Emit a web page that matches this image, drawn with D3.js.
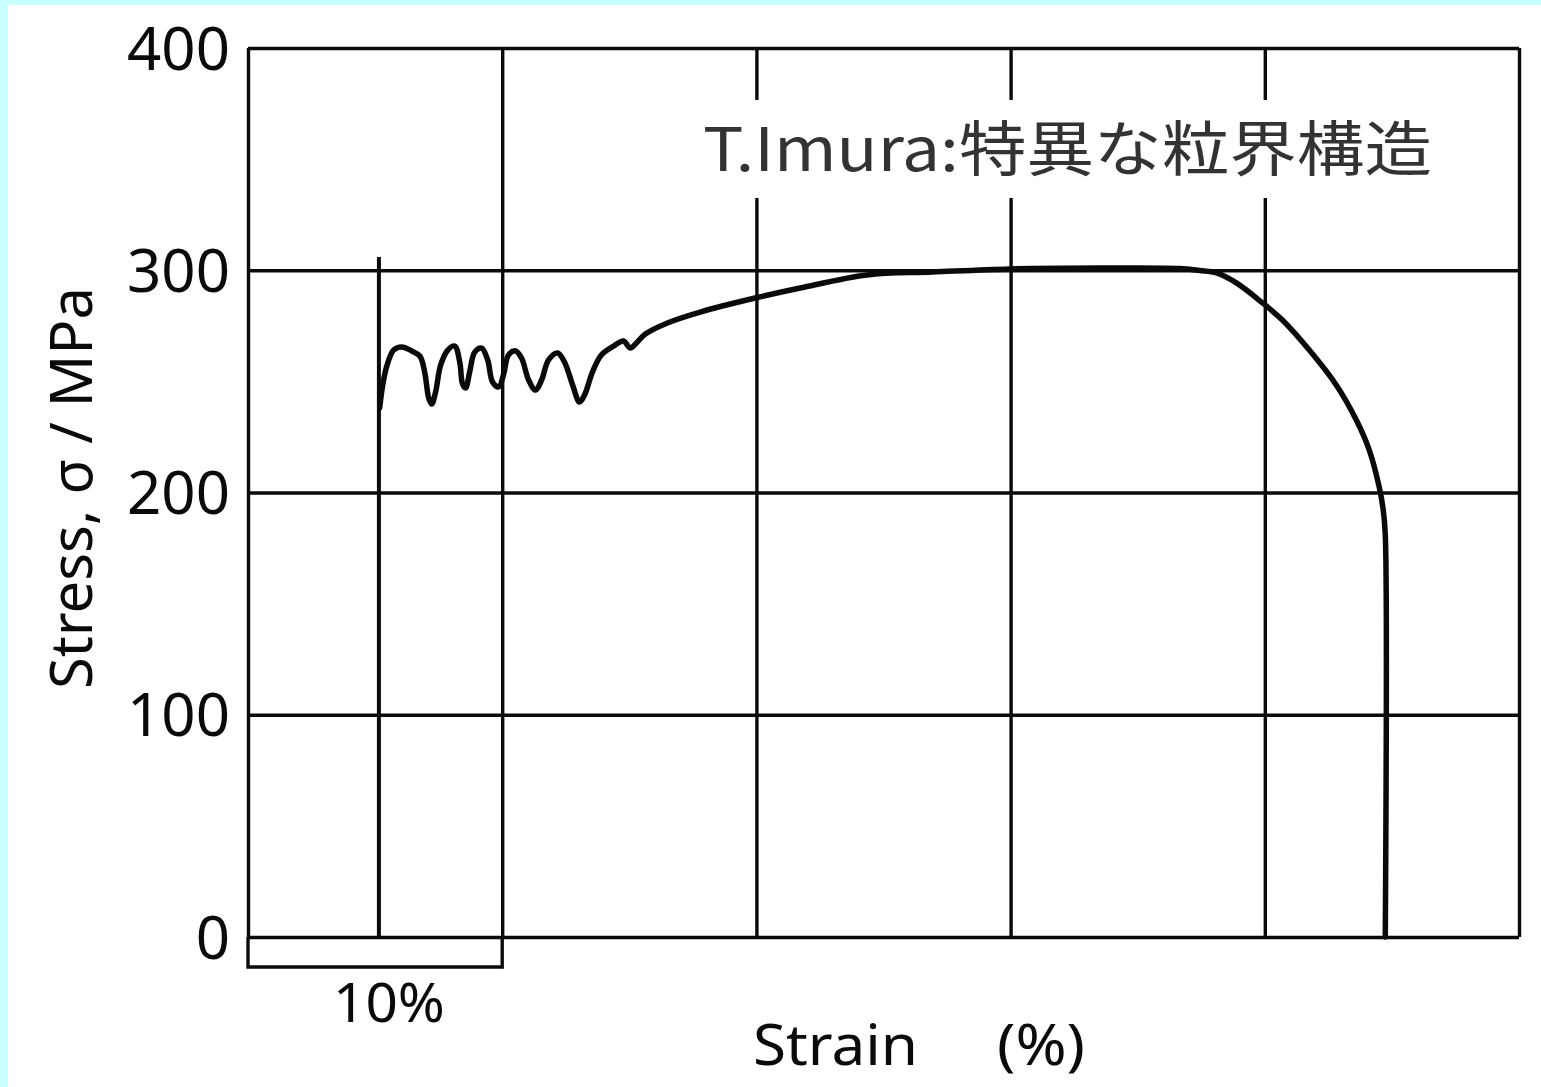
<!DOCTYPE html>
<html><head><meta charset="utf-8">
<script src="https://cdn.jsdelivr.net/npm/d3@7"></script>
<style>
html,body{margin:0;padding:0;background:#c8ffff;}
svg{display:block;}
</style></head>
<body>
<svg id="c" width="1541" height="1087"></svg>
<script>
// ---- data ----
const yTicks = [0, 100, 200, 300, 400];
const xGrid = [0, 10, 20, 30, 40, 50];
const elasticStrain = [5.15, 5.15];
const elasticStress = [0, 306];
const curveStrain = [5.18,5.30,5.46,5.73,6.05,6.44,6.76,6.95,7.11,7.23,7.38,7.58,7.86,8.13,8.33,8.44,8.56,8.72,8.92,9.19,9.43,9.62,9.86,10.05,10.25,10.53,10.76,11.04,11.31,11.55,11.82,12.18,12.45,12.77,13.04,13.24,13.55,13.90,14.38,14.77,15.04,15.28,15.63,16.50,17.79,19.95,21.72,24.35,26.94,29.97,33.50,36.65,37.43,38.10,38.88,39.91,40.69,41.75,42.81,43.60,44.11,44.50,44.66,44.74,44.74];
const curveStress = [238.0,248.4,256.9,264.1,265.5,263.7,261.4,254.2,242.5,239.8,245.2,257.4,264.1,265.9,258.7,248.8,247.0,254.2,263.2,265.0,259.6,249.7,247.5,252.9,261.9,263.7,260.5,250.6,246.1,250.6,259.6,262.8,258.7,248.4,240.7,243.9,254.2,261.9,265.9,268.2,265.0,267.3,271.3,276.3,281.2,287.5,292.0,297.9,299.2,300.6,301.0,300.8,299.9,298.8,294.3,285.3,277.6,264.1,248.4,232.6,219.1,202.5,192.1,180.9,0];
const scaleBarLabel = "10%";
const xLabel = "Strain";
const xUnit = "(%)";
const yLabel = "Stress, σ / MPa";
const title = "T.Imura:特異な粒界構造";

// ---- layout ----
const svg = d3.select("#c");
svg.append("rect").attr("x", 8).attr("y", 5).attr("width", 1541 - 8).attr("height", 1087 - 5).attr("fill", "#fff");

const L = 248, R = 1519, T = 48, B = 937;
const x = d3.scaleLinear().domain([0, 50]).range([L, R]);
const y = d3.scaleLinear().domain([0, 400]).range([B, T]);
const ink = "#0a0a0a";
const font = "'Noto Sans', 'DejaVu Sans', sans-serif";

// horizontal grid via axis
const gy = svg.append("g").attr("transform", `translate(${L},0)`)
  .call(d3.axisLeft(y).tickValues(yTicks).tickSize(-(R - L)).tickFormat(""));
gy.select(".domain").remove();
gy.selectAll(".tick line").attr("stroke", ink).attr("stroke-width", 3.4);

// vertical grid via axis
const gx = svg.append("g").attr("transform", `translate(0,${B})`)
  .call(d3.axisBottom(x).tickValues(xGrid).tickSize(-(B - T)).tickFormat(""));
gx.select(".domain").remove();
gx.selectAll(".tick line").attr("stroke", ink).attr("stroke-width", 3.4);

// scale bar (10%) below the axis
const bar = [0, 10];
const barY = B + 30;
svg.append("path")
  .attr("d", `M${x(bar[0])},${B}V${barY}H${x(bar[1])}V${B}`)
  .attr("fill", "none").attr("stroke", ink).attr("stroke-width", 3.4);
svg.append("text").attr("x", 333).attr("y", 1022)
  .attr("font-family", font).attr("font-size", 54).attr("fill", ink)
  .attr("textLength", 112).attr("lengthAdjust", "spacingAndGlyphs")
  .text(scaleBarLabel);

// y tick labels
svg.append("g").selectAll("text").data(yTicks).join("text")
  .attr("x", 230).attr("y", d => y(d)).attr("dy", "0.36em")
  .attr("text-anchor", "end").attr("font-family", font).attr("font-size", 60).attr("fill", ink)
  .text(d => d);

// elastic line
const line = d3.line().x(d => x(d[0])).y(d => y(d[1]));
svg.append("path").datum(elasticStrain.map((s, i) => [s, elasticStress[i]]))
  .attr("d", line).attr("fill", "none").attr("stroke", ink).attr("stroke-width", 4);

// stress-strain curve
const curve = d3.line().x(d => x(d[0])).y(d => y(d[1])).curve(d3.curveCatmullRom.alpha(0.5));
svg.append("path").datum(curveStrain.map((s, i) => [s, curveStress[i]]))
  .attr("d", curve).attr("fill", "none").attr("stroke", ink).attr("stroke-width", 5.5)
  .attr("stroke-linejoin", "round").attr("stroke-linecap", "round");

// axis labels
svg.append("text").attr("x", 753).attr("y", 1065).attr("font-family", font).attr("font-size", 57).attr("fill", ink)
  .attr("textLength", 165).attr("lengthAdjust", "spacingAndGlyphs").text(xLabel);
svg.append("text").attr("x", 997).attr("y", 1065).attr("font-family", font).attr("font-size", 57).attr("fill", ink)
  .attr("textLength", 88).attr("lengthAdjust", "spacingAndGlyphs").text(xUnit);
svg.append("text").attr("transform", "translate(92,488) rotate(-90)").attr("text-anchor", "middle")
  .attr("font-family", font).attr("font-size", 58).attr("fill", ink).text(yLabel);

// title box
svg.append("rect").attr("x", 695).attr("y", 100).attr("width", 750).attr("height", 98).attr("fill", "#fff");
svg.append("text").attr("x", 703).attr("y", 171)
  .attr("font-family", "'Noto Sans CJK JP', sans-serif").attr("font-size", 60).attr("fill", "#333")
  .attr("textLength", 729).attr("lengthAdjust", "spacingAndGlyphs")
  .text(title);
</script>
</body></html>
